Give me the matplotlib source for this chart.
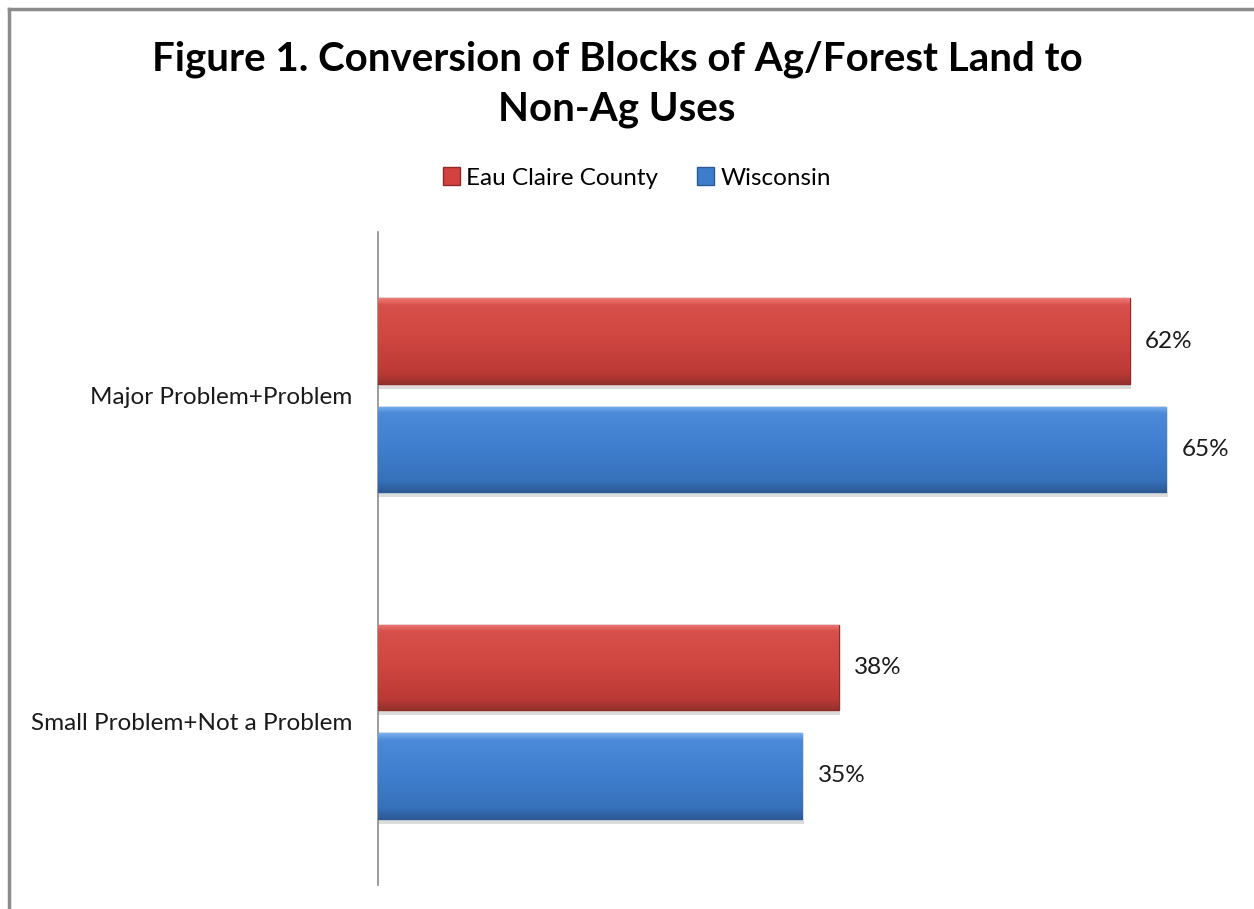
import matplotlib
matplotlib.use("Agg")
import matplotlib.pyplot as plt
import numpy as np
from matplotlib.colors import LinearSegmentedColormap
from matplotlib.patches import Rectangle, Patch

plt.rcParams['font.family'] = ['Lato', 'DejaVu Sans']

categories = ["Major Problem+Problem", "Small Problem+Not a Problem"]
series = ["Eau Claire County", "Wisconsin"]
eau_claire = [62, 38]
wisconsin = [65, 35]
title = "Figure 1. Conversion of Blocks of Ag/Forest Land to\nNon-Ag Uses"

colors = ["#D2423E", "#3D7DCC"]
grads = [[(0, "#EE7A76"), (0.08, "#D8504B"), (0.5, "#CF4540"), (0.88, "#BA3935"), (1, "#95302D")],
         [(0, "#78AEEE"), (0.08, "#4A8AD8"), (0.5, "#3F7ECE"), (0.88, "#3670BA"), (1, "#2C5A94")]]
edges = ["#8E2B28", "#2B5A94"]

fig = plt.figure(figsize=(12.54, 9.09), dpi=100)
ax = fig.add_axes([378 / 1254, 1 - 885 / 909, 872 / 1254, 653 / 909])

y = np.arange(len(categories))
h = 0.262
gap = 0.07
offs = [-(h + gap) / 2, (h + gap) / 2]

for vals, off, c, g, ec in zip([eau_claire, wisconsin], offs, colors, grads, edges):
    bars = ax.barh(y + off, vals, height=h, color=c, edgecolor=ec, linewidth=1.0, zorder=3)
    cmap = LinearSegmentedColormap.from_list("g", g)
    for b, v in zip(bars, vals):
        x0, y0, w, hh = b.get_x(), b.get_y(), b.get_width(), b.get_height()
        # faint shadow under bar
        ax.add_patch(Rectangle((x0, y0 + hh), w + 0.1, 0.015, color="#DCDCDC", zorder=2, lw=0))
        im = ax.imshow(np.linspace(0, 1, 128).reshape(-1, 1), cmap=cmap, aspect="auto",
                       extent=[x0, x0 + w, y0 + hh, y0], zorder=3.5, interpolation="bilinear")
        im.set_clip_path(b)
        ax.text(v + 1.25, y0 + hh / 2, f"{v}%", va="center", ha="left", fontsize=17.5, color="#1a1a1a")

ax.set_xlim(0, 71.9)
ax.set_ylim(1.5, -0.5)
ax.set_xticks([])
ax.set_yticks(y)
ax.set_yticklabels(categories, fontsize=17.5, color="#1a1a1a")
ax.tick_params(axis="y", length=0, pad=18.5)
for s in ["top", "right", "bottom"]:
    ax.spines[s].set_visible(False)
ax.spines["left"].set_color("#8C8C8C")
ax.spines["left"].set_linewidth(1.2)

fig.text(617 / 1254, 1 - 84 / 909, title, ha="center", va="center", fontsize=29,
         fontweight="bold", color="#000000", linespacing=1.42)

handles = [Patch(facecolor=c, edgecolor=ec) for c, ec in zip(colors, edges)]
fig.legend(handles, series, loc="center", bbox_to_anchor=(637 / 1254, 1 - 178 / 909), ncol=2,
           frameon=False, fontsize=17.5, handlelength=0.7, handleheight=0.7,
           handletextpad=0.25, columnspacing=1.6)

# chart frame (left and top)
fig.add_artist(plt.Line2D([8.5 / 1254, 8.5 / 1254], [0, 1 - 9 / 909], color="#8C8C8C", lw=2.5))
fig.add_artist(plt.Line2D([8.5 / 1254, 1], [1 - 9 / 909, 1 - 9 / 909], color="#8C8C8C", lw=2.5))

fig.savefig("out.png", dpi=100, facecolor="white")
